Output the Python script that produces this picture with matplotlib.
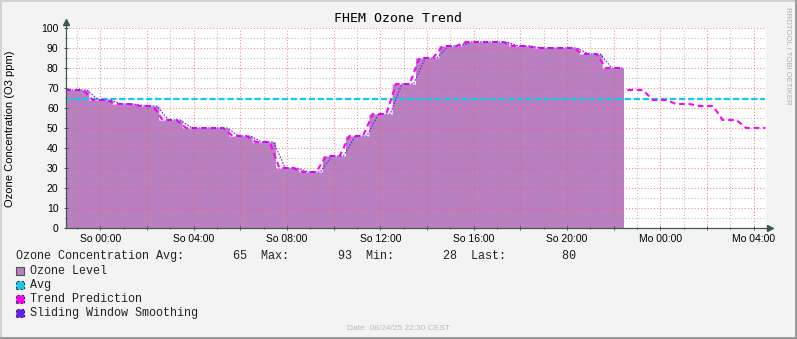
"""
FHEM ozone trend - rrdtool tarzi grafik, matplotlib ile yeniden cizim
"""
import numpy as np
import pandas as pd
import matplotlib
matplotlib.use("Agg")
import matplotlib.pyplot as plt
import matplotlib.dates as mdates
from matplotlib.ticker import MultipleLocator, FuncFormatter
from matplotlib.patches import Rectangle
from matplotlib.lines import Line2D

# saatlik ozon degerleri (ppm), ilk deger Sa 22:30'da basliyor
ozone = [69, 64, 62, 61, 54, 50, 50, 46, 43, 30, 28, 36,
         46, 57, 72, 85, 91, 93, 93, 91, 90, 90, 87, 80]
# son degerden sonraki 6 saat icin tahmin
trend_future = [69, 64, 62, 61, 54, 50]
ozone_avg = 64.6  # grafikteki ortalama cizgisi

start = pd.Timestamp("2025-08-23 22:30")
data_end = pd.Timestamp("2025-08-24 22:25")
future_start = pd.Timestamp("2025-08-24 22:30")
view_end = pd.Timestamp("2025-08-25 04:30")

title = "FHEM Ozone Trend"
ylabel = "Ozone Concentration (O3 ppm)"
legend_labels = ["Ozone Level", "Avg", "Trend Prediction", "Sliding Window Smoothing"]
date_text = "Date: 08/24/25 22:30 CEST"
watermark = "RRDTOOL / TOBI OETIKER"
tage = {0: "Mo", 1: "Di", 2: "Mi", 3: "Do", 4: "Fr", 5: "Sa", 6: "So"}

c_area = "#B97FC1"
c_avg = "#11CCEE"
c_trend = "#FF00FF"
c_smooth = "#6A1BFF"
c_axis = "#3F5A50"

W, H = 797, 339
plt.rcParams["lines.scale_dashes"] = False


def fx(x):
    return x / W


def fy(y):
    return 1 - y / H


# 5 dakikalik rrd verisi
s_hour = pd.Series(ozone, index=pd.date_range(start, periods=len(ozone), freq="h"))
grid5 = pd.date_range(start, data_end, freq="5min")
s5 = s_hour.reindex(grid5, method="ffill")
smooth = s5.rolling(6, min_periods=1).mean()            # 30 dk kayan pencere
trend_past = s5.rolling(5, center=True, min_periods=1).mean()

f_hour = pd.Series(trend_future, index=pd.date_range(future_start, periods=len(trend_future), freq="h"))
grid_f = pd.date_range(future_start + pd.Timedelta("5min"), view_end, freq="5min")
f5 = f_hour.reindex(grid_f, method="ffill")
trend_fut = f5.rolling(5, center=True, min_periods=1).mean()

fig = plt.figure(figsize=(W / 100, H / 100), dpi=100, facecolor="#F3F3F3")
ax = fig.add_axes([fx(65.5), 1 - 228 / H, 700 / W, 200 / H])
ax.set_facecolor("white")

ax.fill_between(grid5, s5.values, 0, step="post", color=c_area, lw=0, zorder=1)
ax.plot([start, view_end], [ozone_avg, ozone_avg], color=c_avg, lw=1.6,
        dashes=(4.5, 2.0), zorder=3)
ax.plot(trend_past.index, trend_past.values, color=c_trend, lw=1.5, dashes=(4.0, 2.8), zorder=4)
ax.plot(trend_fut.index, trend_fut.values, color=c_trend, lw=1.5, dashes=(4.0, 2.8), zorder=4)
ax.plot(smooth.index, smooth.values, color=c_smooth, lw=0.8, dashes=(1.2, 1.0), zorder=5)

ax.set_xlim(start, view_end)
ax.set_ylim(0, 100)

# eksenler ve grid
ax.xaxis.set_major_locator(mdates.HourLocator(byhour=range(0, 24, 2)))
ax.xaxis.set_minor_locator(mdates.HourLocator())


def zeit_label(x, pos):
    d = mdates.num2date(x)
    if d.hour % 4:
        return ""
    return f"{tage[d.weekday()]} {d:%H:%M}"


ax.xaxis.set_major_formatter(FuncFormatter(zeit_label))
ax.yaxis.set_major_locator(MultipleLocator(10))
ax.yaxis.set_minor_locator(MultipleLocator(5))
ax.set_axisbelow(False)
ax.grid(which="major", color="#F06060", alpha=0.75, lw=0.8, linestyle=(0, (0.75, 1.5)))
ax.grid(which="minor", color="#A0A0A0", alpha=0.7, lw=0.8, linestyle=(0, (0.75, 1.5)))

for side in ("top", "right"):
    ax.spines[side].set_visible(False)
for side in ("left", "bottom"):
    ax.spines[side].set_color(c_axis)
    ax.spines[side].set_linewidth(0.9)
    ax.spines[side].set_zorder(6)

ax.tick_params(which="major", direction="inout", length=3, width=0.7, color=c_axis,
               labelsize=7.5, labelcolor="black")
ax.tick_params(which="minor", direction="inout", length=2, width=0.7, color=c_axis)
ax.tick_params(axis="y", pad=3.5)
ax.tick_params(axis="x", pad=2.5)
for lbl in ax.get_xticklabels() + ax.get_yticklabels():
    lbl.set_family("Liberation Sans")

# eksen oklari
ax.add_line(Line2D([0, 0], [1, 1.03], transform=ax.transAxes, color=c_axis, lw=0.9, clip_on=False))
ax.plot([0], [1.03], transform=ax.transAxes, marker="^", ms=4, color=c_axis, clip_on=False)
ax.add_line(Line2D([1, 1.006], [0, 0], transform=ax.transAxes, color=c_axis, lw=0.9, clip_on=False))
ax.plot([1.007], [0], transform=ax.transAxes, marker=">", ms=4, color=c_axis, clip_on=False)

# basliklar
fig.text(fx(398.5), fy(19), title, family="DejaVu Sans Mono", fontsize=9.5,
         ha="center", va="center")
fig.text(fx(10), fy(128.5), ylabel, family="Liberation Sans", fontsize=8,
         rotation=90, ha="center", va="center")
fig.text(fx(787.5), fy(56), watermark, family="Liberation Sans", fontsize=5.6,
         rotation=270, ha="center", va="center", color="#B0B0B0")
fig.text(fx(398.5), fy(328), date_text, family="Liberation Sans", fontsize=6,
         ha="center", va="center", color="#BBBBBB")

# legend
summary = (f"Ozone Concentration Avg:{ozone_avg:9.0f}  Max:{max(ozone):9.0f}"
           f"  Min:{min(ozone):9.0f}  Last:{ozone[-1]:10.0f}")
fig.text(fx(15.5), fy(256), summary, family="Liberation Mono", fontsize=8.5,
         ha="left", va="center", color="#222222")

legend_colors = [c_area, c_avg, c_trend, c_smooth]
for i, (lab, col) in enumerate(zip(legend_labels, legend_colors)):
    yc = 270.8 + i * 14
    if i == 0:
        box = Rectangle((fx(15.5), fy(yc + 4.3)), 8.5 / W, 8.5 / H, transform=fig.transFigure,
                        facecolor=col, edgecolor="#505050", lw=0.8)
    else:
        box = Rectangle((fx(15.5), fy(yc + 4.3)), 8.5 / W, 8.5 / H, transform=fig.transFigure,
                        facecolor=col, edgecolor="#303030", lw=0.8, linestyle=(0, (1.5, 1.5)))
    fig.add_artist(box)
    fig.text(fx(30), fy(yc), lab, family="Liberation Mono", fontsize=8.5,
             ha="left", va="center", color="#222222")

# cerceve
fig.add_artist(Rectangle((0, fy(2)), 1, 2 / H, transform=fig.transFigure, color="#D2D2D2", lw=0))
fig.add_artist(Rectangle((0, 0), 2 / W, 1, transform=fig.transFigure, color="#D2D2D2", lw=0))
fig.add_artist(Rectangle((0, 0), 1, 2 / H, transform=fig.transFigure, color="#9A9A9A", lw=0))
fig.add_artist(Rectangle((fx(795), 0), 2 / W, 1, transform=fig.transFigure, color="#9A9A9A", lw=0))

fig.savefig("out.png", dpi=100, facecolor=fig.get_facecolor())
